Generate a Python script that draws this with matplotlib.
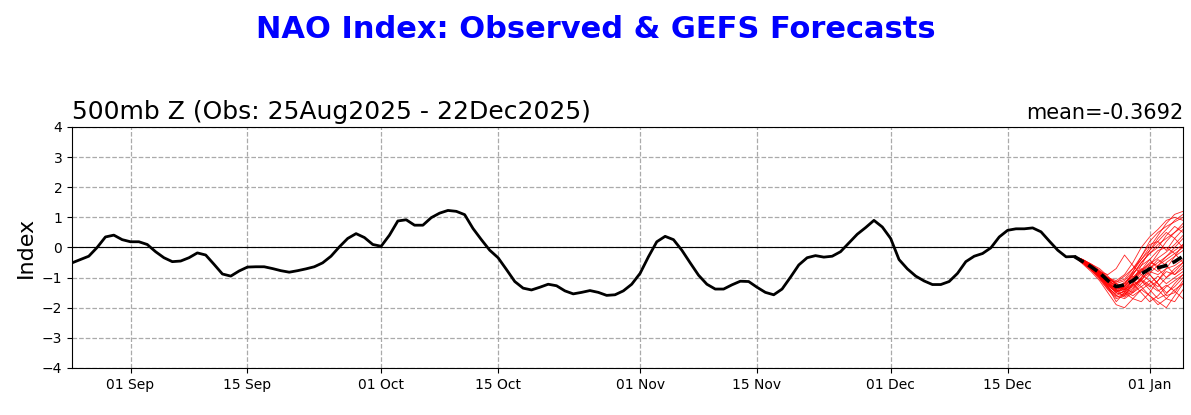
import matplotlib
matplotlib.use("Agg")
import matplotlib.pyplot as plt
import matplotlib.dates as mdates
import numpy as np
import pandas as pd

# ---------------- data ----------------
obs_start = "2025-08-25"
obs_values = [
    -0.51, -0.40, -0.29, 0.00, 0.35, 0.41, 0.26, 0.19, 0.19, 0.10,
    -0.14, -0.34, -0.47, -0.45, -0.34, -0.18, -0.25, -0.56, -0.88, -0.95,
    -0.78, -0.65, -0.64, -0.64, -0.70, -0.77, -0.82, -0.77, -0.71, -0.64,
    -0.51, -0.29, 0.02, 0.30, 0.46, 0.33, 0.10, 0.04, 0.41, 0.88,
    0.92, 0.74, 0.74, 0.99, 1.14, 1.23, 1.20, 1.09, 0.63, 0.26,
    -0.09, -0.34, -0.73, -1.13, -1.35, -1.41, -1.32, -1.22, -1.27, -1.44,
    -1.54, -1.49, -1.43, -1.49, -1.59, -1.57, -1.44, -1.22, -0.86, -0.31,
    0.19, 0.37, 0.26, -0.09, -0.51, -0.92, -1.22, -1.38, -1.38, -1.24,
    -1.12, -1.13, -1.32, -1.49, -1.57, -1.38, -0.99, -0.58, -0.34, -0.27,
    -0.32, -0.29, -0.14, 0.15, 0.44, 0.66, 0.90, 0.68, 0.30, -0.40,
    -0.71, -0.95, -1.11, -1.23, -1.23, -1.13, -0.86, -0.47, -0.29, -0.20,
    -0.01, 0.35, 0.57, 0.62, 0.62, 0.65, 0.52, 0.21, -0.09, -0.31,
    -0.30,
]

fc_start = "2025-12-23"
fc_mean = [-0.30, -0.47, -0.64, -0.84, -1.10, -1.30, -1.24, -1.10,
           -0.88, -0.71, -0.67, -0.60, -0.47, -0.29]

fc_members = [
    [-0.30, -0.40, -0.55, -0.75, -1.00, -1.20, -1.10, -0.80, -0.40, 0.00, 0.40, 0.80, 1.10, 1.20],
    [-0.30, -0.45, -0.65, -0.90, -1.20, -1.45, -1.40, -1.10, -0.60, -0.10, 0.30, 0.60, 0.90, 1.10],
    [-0.30, -0.50, -0.70, -0.95, -1.30, -1.60, -1.70, -1.50, -1.20, -0.90, -1.20, -1.60, -1.50, -1.10],
    [-0.30, -0.45, -0.60, -0.80, -0.90, -0.70, -0.25, -0.60, -0.90, -0.70, -0.50, -0.30, -0.10, 0.10],
    [-0.30, -0.55, -0.80, -1.10, -1.50, -1.90, -2.00, -1.70, -1.40, -1.60, -1.80, -2.00, -1.60, -1.20],
    [-0.30, -0.40, -0.60, -0.85, -1.10, -1.30, -1.20, -0.90, -0.50, -0.20, 0.10, 0.30, 0.50, 0.70],
    [-0.30, -0.45, -0.70, -1.00, -1.35, -1.55, -1.45, -1.30, -1.00, -0.80, -0.90, -0.70, -0.60, -0.40],
    [-0.30, -0.50, -0.65, -0.85, -1.05, -1.20, -1.35, -1.50, -1.30, -1.10, -1.40, -1.70, -1.80, -1.40],
    [-0.30, -0.45, -0.60, -0.80, -1.00, -1.10, -0.90, -0.50, 0.00, 0.35, 0.60, 0.90, 1.00, 0.90],
    [-0.30, -0.50, -0.75, -1.05, -1.40, -1.70, -1.60, -1.20, -0.90, -1.10, -1.30, -1.00, -0.70, -0.50],
    [-0.30, -0.40, -0.55, -0.70, -0.95, -1.25, -1.40, -1.20, -0.80, -0.50, -0.60, -0.40, -0.20, 0.00],
    [-0.30, -0.45, -0.65, -0.90, -1.20, -1.35, -1.15, -0.95, -1.10, -1.30, -1.10, -0.80, -0.90, -0.60],
    [-0.30, -0.50, -0.70, -0.95, -1.25, -1.50, -1.60, -1.40, -1.00, -0.60, -0.20, 0.20, 0.50, 0.80],
    [-0.30, -0.45, -0.62, -0.85, -1.15, -1.40, -1.30, -1.00, -0.70, -0.90, -1.20, -1.50, -1.30, -1.00],
    [-0.30, -0.40, -0.58, -0.80, -1.05, -1.30, -1.50, -1.70, -1.80, -1.50, -1.10, -0.70, -0.30, 0.10],
    [-0.30, -0.48, -0.68, -0.92, -1.28, -1.45, -1.25, -0.80, -0.30, 0.10, 0.20, -0.10, 0.30, 0.60],
    [-0.30, -0.52, -0.75, -1.00, -1.30, -1.80, -1.50, -1.20, -1.50, -1.80, -1.60, -1.30, -1.10, -0.90],
    [-0.30, -0.42, -0.60, -0.82, -1.10, -1.25, -1.35, -1.10, -0.75, -0.40, -0.10, 0.00, -0.20, -0.50],
    [-0.30, -0.47, -0.66, -0.90, -1.22, -1.40, -1.55, -1.35, -1.05, -0.85, -0.60, -0.30, 0.00, 0.30],
    [-0.30, -0.46, -0.64, -0.86, -1.08, -1.15, -1.05, -0.70, -0.30, 0.20, 0.50, 0.70, 0.85, 1.00],
    [-0.30, -0.50, -0.72, -0.98, -1.32, -1.60, -1.45, -1.10, -1.30, -1.60, -1.90, -1.70, -1.40, -1.20],
    [-0.30, -0.44, -0.63, -0.87, -1.12, -1.35, -1.20, -0.85, -0.60, -0.40, -0.70, -1.00, -0.80, -0.50],
    [-0.30, -0.48, -0.70, -0.95, -1.25, -1.50, -1.30, -0.90, -0.50, -0.20, 0.00, 0.40, 0.70, 0.50],
    [-0.30, -0.43, -0.61, -0.83, -1.02, -1.20, -1.45, -1.60, -1.40, -1.20, -0.95, -1.20, -1.00, -0.80],
    [-0.30, -0.49, -0.69, -0.93, -1.18, -1.42, -1.65, -1.45, -1.10, -0.70, -0.40, -0.60, -0.90, -0.70],
    [-0.30, -0.41, -0.57, -0.78, -1.00, -1.15, -0.95, -0.70, -0.40, -0.10, 0.20, 0.50, 0.30, 0.00],
    [-0.30, -0.51, -0.74, -1.02, -1.38, -1.65, -1.55, -1.25, -1.05, -1.25, -1.45, -1.25, -1.45, -1.70],
    [-0.30, -0.46, -0.66, -0.88, -1.14, -1.38, -1.28, -1.00, -0.75, -0.55, -0.35, -0.15, 0.10, 0.40],
    [-0.30, -0.47, -0.67, -0.91, -1.20, -1.48, -1.35, -1.05, -0.80, -0.60, -0.80, -0.50, -0.30, -0.10],
    [-0.30, -0.44, -0.62, -0.84, -1.08, -1.30, -1.40, -1.25, -1.10, -1.40, -1.70, -1.55, -1.20, -0.90],
]

suptitle_text = "NAO Index: Observed & GEFS Forecasts"
left_title = "500mb Z (Obs: 25Aug2025 - 22Dec2025)"
right_title = "mean=-0.3692"
y_label = "Index"
x_limits = ("2025-08-25", "2026-01-05")
tick_dates = ["2025-09-01", "2025-09-15", "2025-10-01", "2025-10-15", "2025-11-01",
              "2025-11-15", "2025-12-01", "2025-12-15", "2026-01-01"]
y_ticks = [-4, -3, -2, -1, 0, 1, 2, 3, 4]

# ---------------- plot ----------------
obs_dates = pd.date_range(obs_start, periods=len(obs_values), freq="D")
fc_dates = pd.date_range(fc_start, periods=len(fc_mean), freq="D")

fig = plt.figure(figsize=(11.91, 4.15), dpi=100)
ax = fig.add_axes([0.0605, 0.1133, 0.9328, 0.5807])

ax.grid(True, linestyle="--", color="#aaaaaa", linewidth=0.9)
ax.set_axisbelow(True)
ax.axhline(0, color="black", linewidth=0.8)

for m in fc_members:
    ax.plot(fc_dates, m, color="red", linewidth=0.6, alpha=0.85)

ax.plot(obs_dates, obs_values, color="black", linewidth=2.0)
ax.plot(fc_dates, fc_mean, color="black", linewidth=2.6, linestyle="--", dashes=(3, 1.5))

ax.set_xlim(pd.Timestamp(x_limits[0]), pd.Timestamp(x_limits[1]))
ax.set_ylim(-4, 4)
ax.set_yticks(y_ticks)
ax.set_xticks([pd.Timestamp(d) for d in tick_dates])
ax.xaxis.set_major_formatter(mdates.DateFormatter("%d %b"))
ax.tick_params(labelsize=10)

ax.set_ylabel(y_label, fontsize=16)
ax.set_title(left_title, loc="left", fontsize=18)
ax.set_title(right_title, loc="right", fontsize=15)

fig.suptitle(suptitle_text, color="blue", fontsize=22, fontweight="bold", y=0.965)

fig.savefig("out.png", dpi=100)
